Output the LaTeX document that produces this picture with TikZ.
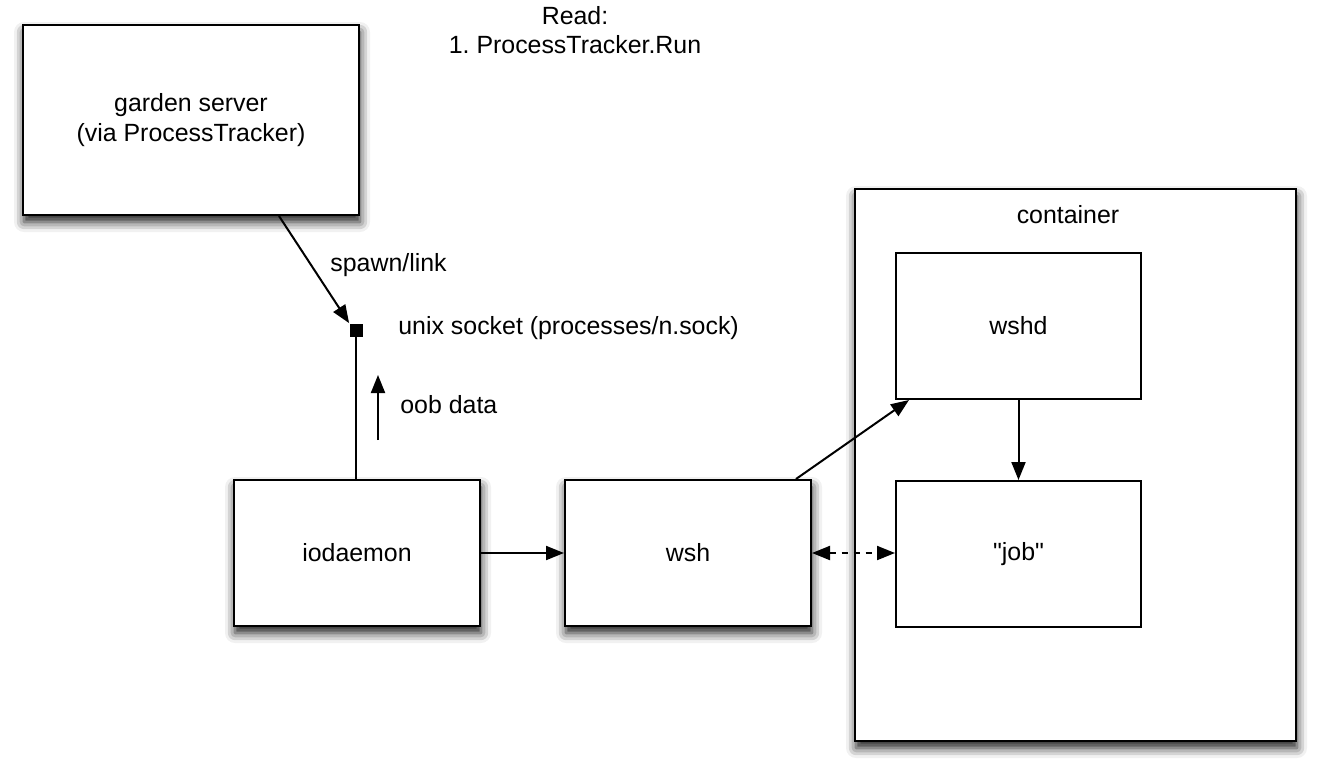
\documentclass[tikz,border=0pt]{standalone}
\usepackage{fontspec}
\setmainfont{Liberation Sans}
\usepackage{tikz}
\usetikzlibrary{arrows.meta,shadows.blur}
\tikzset{%
  tipA/.tip={Triangle[length=9pt,width=7pt]},
  box/.style={draw, line width=1pt, fill=white, inner sep=0pt},
  shadowed/.style={blur shadow={shadow xshift=0.5pt, shadow yshift=-3.5pt, shadow blur radius=5pt, shadow opacity=90}},
  link/.style={line width=1pt, -tipA},
  label/.style={anchor=west, inner sep=0pt}
}
\frenchspacing

\begin{document}
\begin{tikzpicture}[x=0.5pt, y=-0.5pt, font=\fontsize{12.45}{14.6}\selectfont]
\useasboundingbox (0,0) rectangle (1318,772);
\node at (575,30) [align=center] (read) {Read:\\1. ProcessTracker.Run};
\node [box, shadowed, minimum width=168pt, minimum height=95pt, align=center] (server) at (191,120) {garden server\\(via ProcessTracker)};
\node [box, shadowed, minimum width=123pt, minimum height=73pt] (iodaemon) at (357,553) {iodaemon};
\node [box, shadowed, minimum width=123pt, minimum height=73pt] (wsh) at (688,553) {wsh};
\node [box, shadowed, minimum width=220.5pt, minimum height=276pt] (container) at (1075.5,465) {};
\node at (1068,215) (containerlabel) {container};
\node [box, minimum width=122.5pt, minimum height=73pt] (wshd) at (1018.5,326) {wshd};
\node [box, minimum width=122.5pt, minimum height=73pt] (job) at (1018.5,554) {\textquotedbl job\textquotedbl};
\node [fill=black, inner sep=0pt, minimum size=6.5pt] (socket) at (356,330) {};
\node [label] (spawnlabel) at (330,265) {spawn/link};
\node [label] (socketlabel) at (398,328) {unix socket (processes/n.sock)};
\node [label] (ooblabel) at (400,405) {oob data};
\coordinate (oobfrom) at (378,440);
\coordinate (oobto) at (378,375);
\draw [link] ([xshift=44pt]server.south) -- (socket.north west);
\draw [line width=1pt] (socket.south) -- (socket.south |- iodaemon.north);
\draw [link] (oobfrom) -- (oobto);
\draw [link] (iodaemon.east) -- (wsh.west);
\draw [link] ([xshift=54pt]wsh.north) -- ([xshift=7pt]wshd.south west);
\draw [link] (wshd.south) -- (job.north);
\draw [line width=1pt, dashed, tipA-tipA] (wsh.east) -- (job.west |- wsh.east);
\end{tikzpicture}
\end{document}
